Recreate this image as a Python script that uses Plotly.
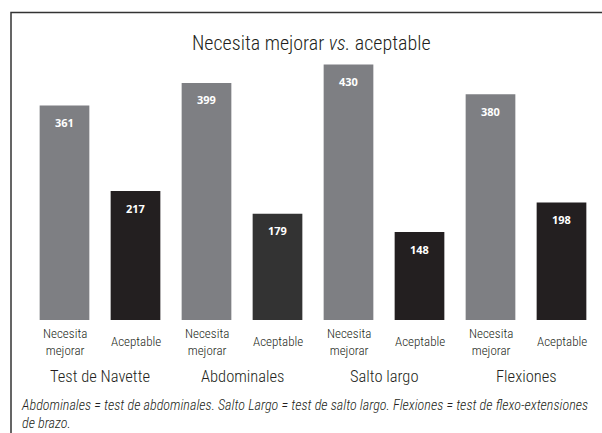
import plotly.graph_objects as go

# ---- data ----
groups = ["Test de Navette", "Abdominales", "Salto largo", "Flexiones"]
subcats = ["Necesita<br>mejorar", "Aceptable"]
values = [361, 217, 399, 179, 430, 148, 380, 198]
title_text = "Necesita mejorar <i>vs.</i> aceptable"
footnote = ("Abdominales = test de abdominales. Salto Largo = test de salto largo. "
            "Flexiones = test de flexo-extensiones<br>de brazo.")

# ---- styling ----
colors = ["#7e7f83", "#231f20", "#7e7f83", "#333333",
          "#7e7f83", "#231f20", "#7e7f83", "#231f20"]
FONT = "Roboto Condensed, Liberation Sans, sans-serif"

cats = [f"{g}|{s}" for g in groups for s in subcats]
labels = [s for g in groups for s in subcats]

fig = go.Figure()
fig.add_trace(go.Bar(x=cats, y=values, marker=dict(color=colors, line=dict(width=0)),
                     width=0.70, hoverinfo="skip"))

W, H = 602, 433
ml, mr, mt, mb = 29, 5, 23, 113
pw, ph = W - ml - mr, H - mt - mb

def py(pix):  # pixel y -> paper
    return (H - mb - pix) / ph

def px(pix):
    return (pix - ml) / pw

ann = []
for c, v in zip(cats, values):
    ann.append(dict(x=c, y=v, xref="x", yref="y", text=f"<b>{v}</b>", showarrow=False,
                    yshift=-17, yanchor="middle",
                    font=dict(family="Open Sans, DejaVu Sans, sans-serif", size=11, color="white")))
for c, lab in zip(cats, labels):
    ann.append(dict(x=c, y=py(342), xref="x", yref="paper", text=lab, showarrow=False,
                    yanchor="middle", xanchor="center",
                    font=dict(family=FONT, size=13, color="#231f20", weight=300)))
for i, g in enumerate(groups):
    ann.append(dict(x=2 * i + 0.5, y=py(377), xref="x", yref="paper", text=g, showarrow=False,
                    yanchor="middle", xanchor="center",
                    font=dict(family=FONT, size=16.5, color="#231f20", weight=300)))
ann.append(dict(x=px(311), y=py(43), xref="paper", yref="paper", text=title_text,
                showarrow=False, xanchor="center", yanchor="middle",
                font=dict(family=FONT, size=20, color="#231f20", weight=300)))
ann.append(dict(x=px(19), y=py(414), xref="paper", yref="paper", text=f"<i>{footnote}</i>",
                showarrow=False, xanchor="left", yanchor="middle", align="left",
                font=dict(family=FONT, size=14.1, color="#231f20", weight=300)))

fig.update_layout(
    width=W, height=H,
    margin=dict(l=ml, r=mr, t=mt, b=mb, pad=0),
    paper_bgcolor="white", plot_bgcolor="white",
    showlegend=False,
    xaxis=dict(range=[-0.5, 7.5], showticklabels=False, showgrid=False, zeroline=False,
               showline=False, ticks=""),
    yaxis=dict(range=[0, 500], visible=False),
    annotations=ann,
    shapes=[dict(type="rect", xref="paper", yref="paper",
                 x0=px(11), x1=px(615), y0=py(445), y1=py(12.5),
                 line=dict(color="#333333", width=1.5), fillcolor="rgba(0,0,0,0)", layer="below")],
)

fig.write_html("out.html", config={"displayModeBar": False},
               post_script="document.body.style.margin='0';document.body.style.overflow='hidden';")
